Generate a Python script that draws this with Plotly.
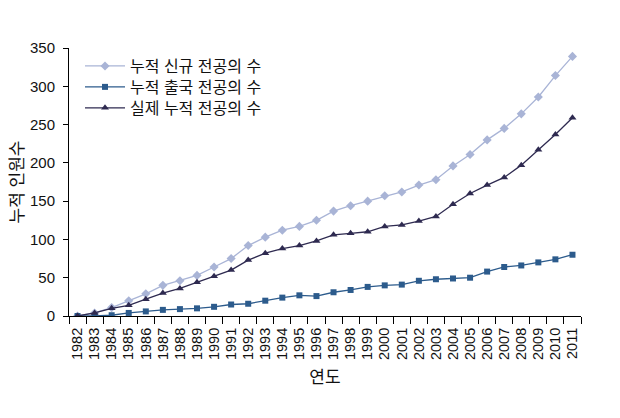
import plotly.graph_objects as go

years = [str(y) for y in range(1982, 2012)]
new_residents = [0, 4, 11, 20, 29, 40, 46, 53, 64, 75, 92, 103, 112, 117, 125, 137, 144, 150, 157, 162,
                 171, 178, 196, 211, 230, 245, 264, 286, 314, 339]
departed = [0, 0, 1, 4, 6, 8, 9, 10, 12, 15, 16, 20, 24, 27, 26, 31, 34, 38, 40, 41,
            46, 48, 49, 50, 58, 64, 66, 70, 74, 80]
actual = [0, 4, 10, 14, 22, 30, 36, 44, 52, 60, 73, 82, 88, 92, 98, 106, 108, 110, 117, 119,
          124, 130, 146, 160, 171, 181, 197, 217, 237, 259]
names = ["누적 신규 전공의 수", "누적 출국 전공의 수", "실제 누적 전공의 수"]
y_ticks = [0, 50, 100, 150, 200, 250, 300, 350]

FONT = "Liberation Sans, Arial, Noto Sans CJK KR, sans-serif"

fig = go.Figure()
fig.add_trace(go.Scatter(x=years, y=new_residents, name=names[0], mode="lines+markers",
                         legend="legend",
                         line=dict(color="#a9b4d6", width=1.3),
                         marker=dict(symbol="diamond", size=7, color="#a9b4d6")))
fig.add_trace(go.Scatter(x=years, y=departed, name=names[1], mode="lines+markers",
                         legend="legend2",
                         line=dict(color="#2c5b8c", width=1.3),
                         marker=dict(symbol="square", size=6, color="#2c5b8c")))
fig.add_trace(go.Scatter(x=years, y=actual, name=names[2], mode="lines+markers",
                         legend="legend3",
                         line=dict(color="#2e2a50", width=1.3),
                         marker=dict(symbol="triangle-up", size=7, color="#2e2a50")))

def leg(ypos):
    return dict(xref="paper", yref="paper", x=0.0215, y=ypos,
                xanchor="left", yanchor="top",
                font=dict(size=16, family=FONT, color="#111111"),
                bgcolor="rgba(0,0,0,0)", itemwidth=40)

fig.update_layout(
    width=620, height=418,
    margin=dict(l=61, r=47, t=40, b=110, autoexpand=False),
    paper_bgcolor="white", plot_bgcolor="white",
    font=dict(family=FONT, size=15, color="#111111"),
    showlegend=True,
    legend=leg(0.996),
    legend2=leg(0.918),
    legend3=leg(0.840),
)
fig.update_xaxes(type="category", range=[-0.5, 29.5], tickangle=-90,
                 tickmode="array", tickvals=years, ticktext=years,
                 ticks="outside", tickson="boundaries", ticklen=7, tickcolor="black",
                 ticklabelstandoff=5,
                 showline=True, linecolor="black", linewidth=1, showgrid=False, zeroline=False,
                 tickfont=dict(size=14.5),
                 title=dict(text="연도", font=dict(size=17), standoff=12))
fig.update_yaxes(range=[0, 350], tickvals=y_ticks, ticks="outside", ticklen=5, tickcolor="black",
                 ticklabelstandoff=5,
                 showline=True, linecolor="black", linewidth=1, showgrid=False, zeroline=False,
                 tickfont=dict(size=15),
                 title=dict(text="누적 인원수", font=dict(size=17), standoff=8))

fig.write_html("out.html")
